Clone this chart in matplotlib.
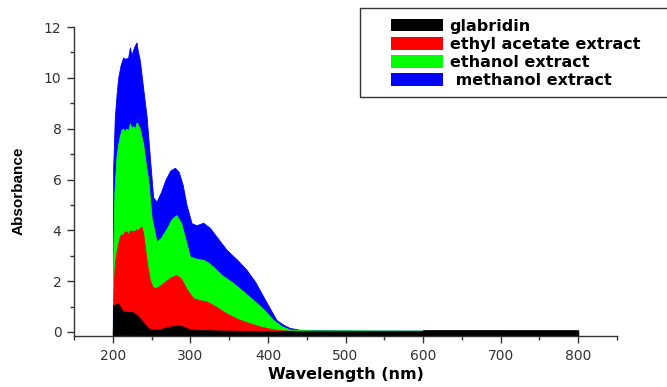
import matplotlib
matplotlib.use("Agg")
import matplotlib.pyplot as plt
from matplotlib.patches import Patch, Rectangle
from matplotlib.ticker import MultipleLocator

plt.rcParams['font.family'] = ['DejaVu Sans']

series_names = ["glabridin", "ethyl acetate extract", "ethanol extract", " methanol extract"]
series_colors = ["#000000", "#ff0000", "#00ff00", "#0000ff"]

meth_wl = [200, 200.5, 202.6, 205, 206.9, 210, 213.3, 216, 219.8, 222, 224, 226.2, 228,
           230.6, 232, 234.8, 239.1, 243.5, 247.7, 252, 256.4, 262, 268, 274, 280, 285,
           290, 295, 301.5, 308, 316.5, 325, 335, 346.7, 360, 372.5, 384, 394, 403, 411,
           420, 428, 440, 460, 500, 600, 700, 800]
meth_val = [0, 6.5, 8.46, 9.4, 10.0, 10.5, 10.8, 10.75, 10.8, 11.2, 10.9, 11.1, 11.25,
            11.4, 11.1, 10.7, 9.6, 8.5, 6.9, 5.3, 5.13, 5.5, 6.0, 6.35, 6.46, 6.3,
            5.8, 5.0, 4.28, 4.2, 4.3, 4.1, 3.7, 3.23, 2.85, 2.44, 1.95, 1.39, 0.9, 0.47,
            0.28, 0.16, 0.09, 0.07, 0.06, 0.05, 0.04, 0.04]

eth_wl = [200, 200.5, 202, 204.7, 207, 209, 211, 213.3, 215.5, 217.6, 220, 222, 224, 226.2,
          228.5, 230.6, 232.5, 234.8, 239.1, 243.5, 245.6, 250, 256.4, 262, 270, 276,
          282, 288, 294, 299.4, 308, 316.5, 322, 329.4, 340, 355, 368, 381, 394, 406.8,
          418, 428, 440, 460, 500, 600, 700, 800]
eth_val = [0, 3.0, 5.5, 6.9, 7.4, 7.7, 7.95, 8.0, 7.9, 8.0, 7.95, 8.2, 8.05, 8.1,
           8.0, 8.25, 8.15, 8.0, 7.4, 6.4, 6.0, 4.5, 3.56, 3.7, 4.1, 4.45,
           4.6, 4.3, 3.6, 2.97, 2.88, 2.84, 2.75, 2.57, 2.25, 1.93, 1.6, 1.26, 0.9, 0.47,
           0.22, 0.1, 0.07, 0.06, 0.06, 0.05, 0.04, 0.04]

ea_wl = [200, 200.5, 201.5, 202.6, 205, 207, 209, 211, 213, 215, 217.6, 220, 222, 224,
         226, 228, 230, 232, 235, 237, 239, 241.3, 244, 247.7, 251, 254, 260, 268,
         275, 282, 288, 295, 303.6, 312, 320.9, 330, 346.7, 360, 376.8, 392, 407,
         420, 440, 500, 600, 700, 800]
ea_val = [0, 1.0, 2.0, 2.7, 3.2, 3.5, 3.75, 3.85, 3.8, 3.95, 3.95, 3.85, 4.0, 3.95,
          4.0, 3.95, 4.05, 4.0, 4.1, 4.15, 3.9, 3.36, 2.7, 2.05, 1.8, 1.72, 1.8, 2.0,
          2.15, 2.24, 2.1, 1.7, 1.33, 1.25, 1.2, 1.05, 0.73, 0.52, 0.34, 0.2, 0.1,
          0.06, 0.04, 0.03, 0.03, 0.03, 0.03]

gla_wl = [200, 200.5, 203, 206.9, 210, 213.3, 218, 222, 226, 230, 234.8, 240, 245.6, 252,
          260, 268, 275, 282, 290, 297, 303.6, 320, 350, 400, 450, 500, 599, 600, 700, 800]
gla_val = [0, 1.06, 1.08, 1.13, 0.95, 0.8, 0.8, 0.78, 0.78, 0.68, 0.54, 0.35, 0.15, 0.08,
           0.1, 0.17, 0.22, 0.25, 0.22, 0.13, 0.08, 0.07, 0.05, 0.03, 0.02, 0.02, 0.02,
           0.07, 0.07, 0.07]

x_ticks = [200, 300, 400, 500, 600, 700, 800]
y_ticks = [0, 2, 4, 6, 8, 10, 12]

fig = plt.figure(figsize=(6.67, 3.87), dpi=100)
ax = fig.add_axes([0.111, 0.1305, 0.814, 0.7995])

ymin = -0.18
data = [(meth_wl, meth_val, 3), (eth_wl, eth_val, 2), (ea_wl, ea_val, 1), (gla_wl, gla_val, 0)]
for wl, val, idx in data:
    ax.fill_between(wl, ymin, val, color=series_colors[idx], linewidth=0.6,
                    edgecolor=series_colors[idx])

ax.set_xlim(150, 850)
ax.set_ylim(ymin, 12)
ax.set_xticks(x_ticks)
ax.set_yticks(y_ticks)
ax.xaxis.set_minor_locator(MultipleLocator(50))
ax.yaxis.set_minor_locator(MultipleLocator(1))
ax.spines['top'].set_visible(False)
ax.spines['right'].set_visible(False)
for s in ['left', 'bottom']:
    ax.spines[s].set_color('#333333')
    ax.spines[s].set_linewidth(1.0)
ax.tick_params(which='major', direction='out', length=5, width=1, colors='#333333',
               labelsize=10, labelcolor='#333333', pad=4)
ax.tick_params(which='minor', direction='out', length=3, width=1, colors='#333333')
ax.set_xlabel("Wavelength (nm)", fontsize=11.5, fontweight='bold')
ax.set_ylabel("Absorbance", fontsize=11, fontweight='bold',
              family=['Liberation Sans', 'DejaVu Sans'])
ax.xaxis.set_label_coords((346 - 74) / 543, -(375 - 336.5) / 309.5)
ax.yaxis.set_label_coords((19 - 74) / 543, (336.5 - 191) / 309.5)
ax.xaxis.label.set_va('center')
ax.yaxis.label.set_va('center')

# legend frame
fig.patches.append(Rectangle((360 / 667, 1 - 97 / 387), 320 / 667, 89 / 387,
                             transform=fig.transFigure, fill=False,
                             edgecolor='#333333', linewidth=1.0))
handles = [Patch(facecolor=c, edgecolor='none') for c in series_colors]
leg = fig.legend(handles, series_names, loc='upper left',
                 bbox_to_anchor=(389 / 667, 1 - 17 / 387), frameon=False,
                 prop={'weight': 'bold', 'size': 11.5}, handlelength=3.25,
                 handleheight=0.85, labelspacing=0.2, handletextpad=0.45,
                 borderpad=0.1, borderaxespad=0)

fig.savefig("out.png", dpi=100)
